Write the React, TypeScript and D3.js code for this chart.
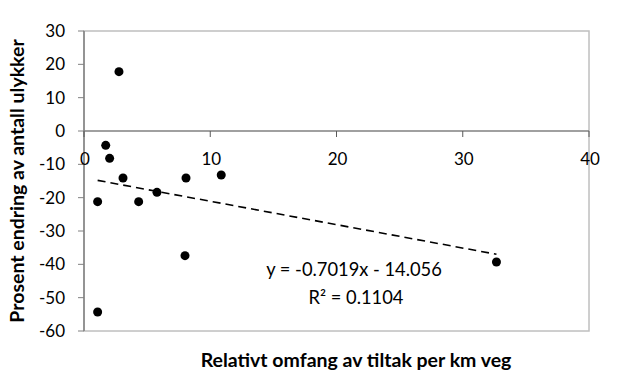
import React from "react";
import * as d3 from "d3";

const xValues = [2.77, 1.72, 2.03, 3.09, 8.08, 10.87, 1.08, 4.33, 5.78, 8.0, 1.08, 32.67];
const yValues = [17.8, -4.3, -8.2, -14.1, -14.1, -13.2, -21.2, -21.2, -18.4, -37.4, -54.3, -39.3];
const xTicks = [0, 10, 20, 30, 40];
const yTicks = [30, 20, 10, 0, -10, -20, -30, -40, -50, -60];
const slope = -0.7019;
const intercept = -14.056;
const eqText = "y = -0.7019x - 14.056";
const r2Value = "0.1104";
const xTitle = "Relativt omfang av tiltak per km veg";
const yTitle = "Prosent endring av antall ulykker";

const W = 623;
const H = 378;
const left = 84;
const right = 589;
const top = 31;
const bottom = 331;
const font = "Lato, 'Open Sans', sans-serif";

export default function App() {
  const x = d3.scaleLinear().domain([0, 40]).range([left, right]);
  const y = d3.scaleLinear().domain([-60, 30]).range([bottom, top]);
  const xmin = d3.min(xValues) as number;
  const xmax = d3.max(xValues) as number;
  const line = d3.line<number>().x((d) => x(d)).y((d) => y(slope * d + intercept));
  const y0 = y(0);
  return (
    <svg width={W} height={H} style={{ position: "absolute", left: 0, top: 0, background: "#fff" }}>
      <rect x={left} y={top} width={right - left} height={bottom - top} fill="none" stroke="#bfbfbf" strokeWidth={1.5} />
      {/* y axis */}
      <line x1={left} x2={left} y1={top} y2={bottom} stroke="#808080" strokeWidth={1.5} />
      {yTicks.map((t) => (
        <g key={"y" + t}>
          <line x1={left - 6} x2={left} y1={y(t)} y2={y(t)} stroke="#808080" strokeWidth={1} />
          <text x={65} y={y(t)} dy="0.36em" textAnchor="end" fontFamily={font} fontSize={17} fill="#000">
            {t}
          </text>
        </g>
      ))}
      {/* x axis at y=0 */}
      <line x1={left} x2={right} y1={y0} y2={y0} stroke="#808080" strokeWidth={1.5} />
      {xTicks.map((t) => (
        <g key={"x" + t}>
          <line x1={x(t)} x2={x(t)} y1={y0} y2={y0 + 6} stroke="#595959" strokeWidth={1} />
          <text x={x(t) + 1} y={165} textAnchor="middle" fontFamily={font} fontSize={17} fill="#000">
            {t}
          </text>
        </g>
      ))}
      <path d={line([xmin, xmax]) || ""} fill="none" stroke="#000" strokeWidth={1.6} strokeDasharray="8,5" />
      {xValues.map((xv, i) => (
        <circle key={i} cx={x(xv)} cy={y(yValues[i])} r={4.5} fill="#000" />
      ))}
      <text x={354} y={276} textAnchor="middle" fontFamily={font} fontSize={18.3} fill="#000">
        {eqText}
      </text>
      <text x={356} y={304} textAnchor="middle" fontFamily={font} fontSize={18.3} fill="#000">
        R² = {r2Value}
      </text>
      <text x={356} y={367} textAnchor="middle" fontFamily={font} fontSize={19.5} fontWeight="bold" fill="#000">
        {xTitle}
      </text>
      <text
        transform={`translate(24,${(top + bottom) / 2}) rotate(-90)`}
        textAnchor="middle"
        fontFamily={font}
        fontSize={19.5}
        fontWeight="bold"
        fill="#000"
      >
        {yTitle}
      </text>
    </svg>
  );
}
